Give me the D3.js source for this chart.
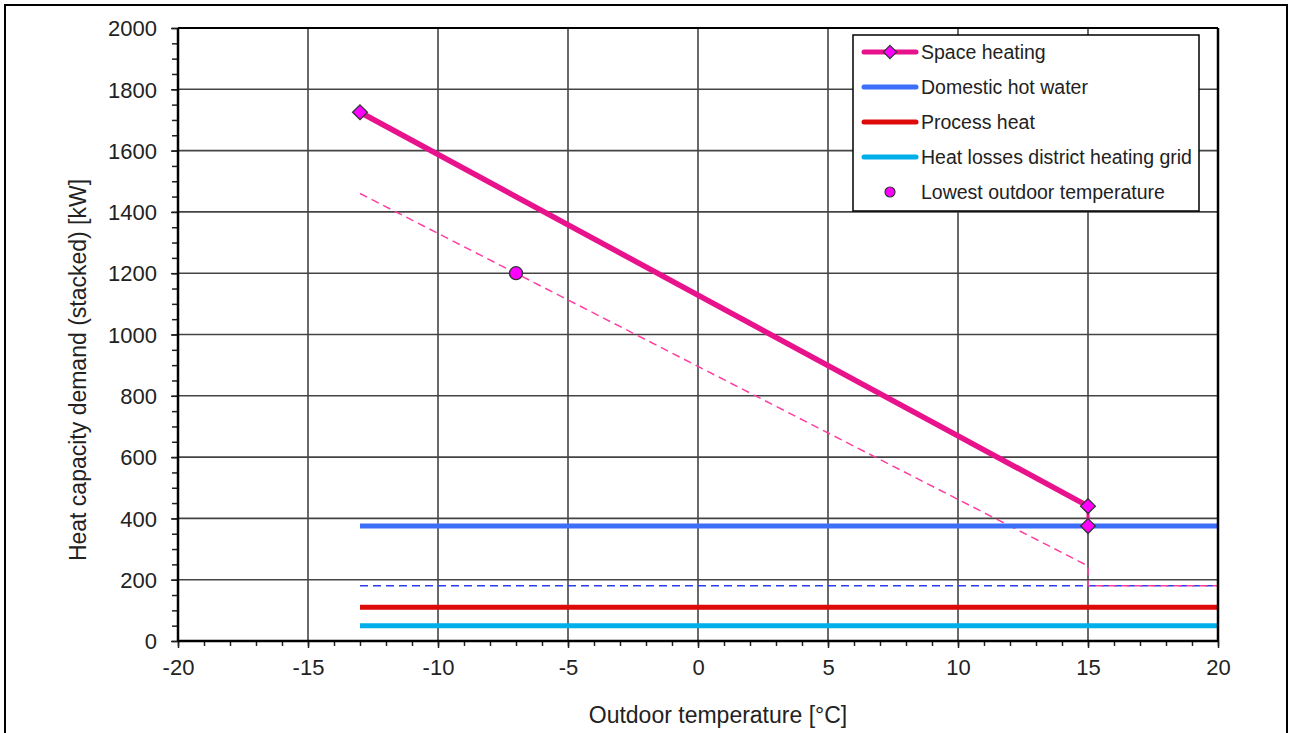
<!DOCTYPE html>
<html lang="en">

<head>
    <meta charset="UTF-8">
    <title>Heat capacity demand</title>
    <style>
        body {
            margin: 0;
            padding: 0;
            background-color: #fff;
            font-family: "Liberation Sans", Arial, sans-serif;
        }

        #chart {
            width: 1292px;
            height: 733px;
        }

        .tick text {
            font-family: "Liberation Sans", Arial, sans-serif;
            font-size: 22px;
            fill: #222;
        }

        .grid line {
            stroke: #444;
            stroke-width: 1.6px;
        }

        .legend text {
            font-size: 19.5px;
            fill: #222;
        }
    </style>
</head>

<body>
    <div id="chart"></div>
    <script src="https://d3js.org/d3.v7.min.js"></script>
    <script>
        // values
        const xTicks = [-20, -15, -10, -5, 0, 5, 10, 15, 20];
        const yTicks = [0, 200, 400, 600, 800, 1000, 1200, 1400, 1600, 1800, 2000];

        const spaceHeating = [{ t: -13, kw: 1725 }, { t: 15, kw: 440 }];
        const spaceHeatingDrop = [{ t: 15, kw: 440 }, { t: 15, kw: 375 }];
        const spaceHeatingDashed = [{ t: -13, kw: 1460 }, { t: 15, kw: 245 }, { t: 15, kw: 180 }, { t: 20, kw: 180 }];
        const hotWater = [{ t: -13, kw: 375 }, { t: 20, kw: 375 }];
        const hotWaterDashed = [{ t: -13, kw: 180 }, { t: 20, kw: 180 }];
        const processHeat = [{ t: -13, kw: 110 }, { t: 20, kw: 110 }];
        const gridLosses = [{ t: -13, kw: 50 }, { t: 20, kw: 50 }];
        const lowestTemp = [{ t: -7, kw: 1200 }];

        const legendItems = [
            { name: "Space heating", color: "#e8128c", kind: "diamond" },
            { name: "Domestic hot water", color: "#3d6ef7", kind: "line" },
            { name: "Process heat", color: "#dd0a0a", kind: "line" },
            { name: "Heat losses district heating grid", color: "#00aeea", kind: "line" },
            { name: "Lowest outdoor temperature", color: "#ff00ff", kind: "dot" }
        ];

        const margin = { top: 28, right: 74, bottom: 92, left: 178 };
        const width = 1292 - margin.left - margin.right;
        const height = 733 - margin.top - margin.bottom;

        const root = d3.select("#chart").append("svg")
            .attr("width", 1292)
            .attr("height", 733);

        // outer frame
        root.append("rect")
            .attr("x", 5)
            .attr("y", 5)
            .attr("width", 1282)
            .attr("height", 740)
            .attr("fill", "none")
            .attr("stroke", "black")
            .attr("stroke-width", 2);

        const svg = root.append("g")
            .attr("transform", "translate(" + margin.left + "," + margin.top + ")");

        const xScale = d3.scaleLinear()
            .domain([-20, 20])
            .range([0, width]);

        const yScale = d3.scaleLinear()
            .domain([0, 2000])
            .range([height, 0]);

        // grid
        svg.append("g")
            .attr("class", "grid")
            .selectAll("line.v")
            .data(xTicks)
            .enter().append("line")
            .attr("x1", d => xScale(d))
            .attr("x2", d => xScale(d))
            .attr("y1", 0)
            .attr("y2", height);

        svg.append("g")
            .attr("class", "grid")
            .selectAll("line.h")
            .data(yTicks)
            .enter().append("line")
            .attr("x1", 0)
            .attr("x2", width)
            .attr("y1", d => yScale(d))
            .attr("y2", d => yScale(d));

        // minor ticks
        const xAxisMinor = d3.axisBottom(xScale).ticks(40).tickSize(5).tickFormat("");
        const yAxisMinor = d3.axisLeft(yScale).ticks(50).tickSize(6).tickFormat("");

        svg.append("g")
            .attr("transform", "translate(0," + height + ")")
            .call(xAxisMinor)
            .call(g => g.select(".domain").remove())
            .call(g => g.selectAll("line").attr("stroke", "#222").attr("stroke-width", 1.5));

        svg.append("g")
            .call(yAxisMinor)
            .call(g => g.select(".domain").remove())
            .call(g => g.selectAll("line").attr("stroke", "#222").attr("stroke-width", 1.5));

        const xAxis = d3.axisBottom(xScale).tickValues(xTicks).tickSize(7).tickPadding(11)
            .tickFormat(d => String(d));
        const yAxis = d3.axisLeft(yScale).tickValues(yTicks).tickSize(7).tickPadding(14)
            .tickFormat(d => String(d));

        svg.append("g")
            .attr("transform", "translate(0," + height + ")")
            .call(xAxis)
            .call(g => g.select(".domain").remove())
            .call(g => g.selectAll("line").attr("stroke", "#222").attr("stroke-width", 1.5));

        svg.append("g")
            .call(yAxis)
            .call(g => g.select(".domain").remove())
            .call(g => g.selectAll("line").attr("stroke", "#222").attr("stroke-width", 1.5))
            .call(g => g.selectAll("text").attr("dy", "0.35em"));

        const line = d3.line()
            .x(d => xScale(d.t))
            .y(d => yScale(d.kw));

        // dashed lines
        svg.append("path")
            .datum(hotWaterDashed)
            .attr("d", line)
            .attr("fill", "none")
            .attr("stroke", "#2a3ef0")
            .attr("stroke-width", 1.5)
            .attr("stroke-dasharray", "8,5");

        svg.append("path")
            .datum(spaceHeatingDashed)
            .attr("d", line)
            .attr("fill", "none")
            .attr("stroke", "#ff3fa0")
            .attr("stroke-width", 1.5)
            .attr("stroke-dasharray", "8,5");

        // solid series
        const solid = [
            { data: gridLosses, color: "#00aeea" },
            { data: processHeat, color: "#dd0a0a" },
            { data: hotWater, color: "#3d6ef7" }
        ];

        solid.forEach(s => {
            svg.append("path")
                .datum(s.data)
                .attr("d", line)
                .attr("fill", "none")
                .attr("stroke", s.color)
                .attr("stroke-width", 5);
        });

        svg.append("path")
            .datum(spaceHeatingDrop)
            .attr("d", line)
            .attr("fill", "none")
            .attr("stroke", "#e8128c")
            .attr("stroke-width", 3);

        svg.append("path")
            .datum(spaceHeating)
            .attr("d", line)
            .attr("fill", "none")
            .attr("stroke", "#e8128c")
            .attr("stroke-width", 5.5);

        const diamond = d3.symbol().type(d3.symbolDiamond2).size(140);

        svg.selectAll(".sh-marker")
            .data(spaceHeating.concat([spaceHeatingDrop[1]]))
            .enter().append("path")
            .attr("class", "sh-marker")
            .attr("d", diamond)
            .attr("transform", d => "translate(" + xScale(d.t) + "," + yScale(d.kw) + ")")
            .attr("fill", "#ff00ff")
            .attr("stroke", "#333")
            .attr("stroke-width", 1.3);

        svg.selectAll(".low-marker")
            .data(lowestTemp)
            .enter().append("circle")
            .attr("class", "low-marker")
            .attr("cx", d => xScale(d.t))
            .attr("cy", d => yScale(d.kw))
            .attr("r", 6.5)
            .attr("fill", "#ff00ff")
            .attr("stroke", "#333")
            .attr("stroke-width", 1.3);

        // plot frame
        svg.append("line")
            .attr("x1", 0).attr("x2", 0).attr("y1", 0).attr("y2", height)
            .attr("stroke", "black").attr("stroke-width", 2.5);
        svg.append("line")
            .attr("x1", 0).attr("x2", width).attr("y1", height).attr("y2", height)
            .attr("stroke", "black").attr("stroke-width", 2.5);
        svg.append("line")
            .attr("x1", width).attr("x2", width).attr("y1", 0).attr("y2", height)
            .attr("stroke", "black").attr("stroke-width", 2.5);
        svg.append("line")
            .attr("x1", 0).attr("x2", width).attr("y1", 0).attr("y2", 0)
            .attr("stroke", "black").attr("stroke-width", 2);

        // axis titles
        svg.append("text")
            .attr("x", 540)
            .attr("y", height + 82)
            .style("text-anchor", "middle")
            .style("font-size", "23px")
            .attr("fill", "#222")
            .text("Outdoor temperature [°C]");

        svg.append("text")
            .attr("transform", "rotate(-90)")
            .attr("x", -342)
            .attr("y", -92)
            .style("text-anchor", "middle")
            .style("font-size", "23px")
            .attr("fill", "#222")
            .text("Heat capacity demand (stacked) [kW]");

        // legend
        const legend = svg.append("g")
            .attr("class", "legend")
            .attr("transform", "translate(" + (853 - margin.left) + "," + (35 - margin.top) + ")");

        legend.append("rect")
            .attr("width", 346)
            .attr("height", 176)
            .attr("fill", "white")
            .attr("stroke", "black")
            .attr("stroke-width", 1.5);

        const rows = legend.selectAll(".row")
            .data(legendItems)
            .enter().append("g")
            .attr("class", "row")
            .attr("transform", (d, i) => "translate(0," + (17 + i * 35) + ")");

        rows.filter(d => d.kind !== "dot").append("line")
            .attr("x1", 11)
            .attr("x2", 63)
            .attr("stroke", d => d.color)
            .attr("stroke-width", 5)
            .attr("stroke-linecap", "round");

        rows.filter(d => d.kind === "diamond").append("path")
            .attr("d", d3.symbol().type(d3.symbolDiamond2).size(110))
            .attr("transform", "translate(37,0)")
            .attr("fill", "#ff00ff")
            .attr("stroke", "#333")
            .attr("stroke-width", 1.2);

        rows.filter(d => d.kind === "dot").append("circle")
            .attr("cx", 37)
            .attr("r", 5)
            .attr("fill", d => d.color)
            .attr("stroke", "#333")
            .attr("stroke-width", 1.2);

        rows.append("text")
            .attr("x", 68)
            .attr("dy", "0.35em")
            .text(d => d.name);
    </script>
</body>

</html>
